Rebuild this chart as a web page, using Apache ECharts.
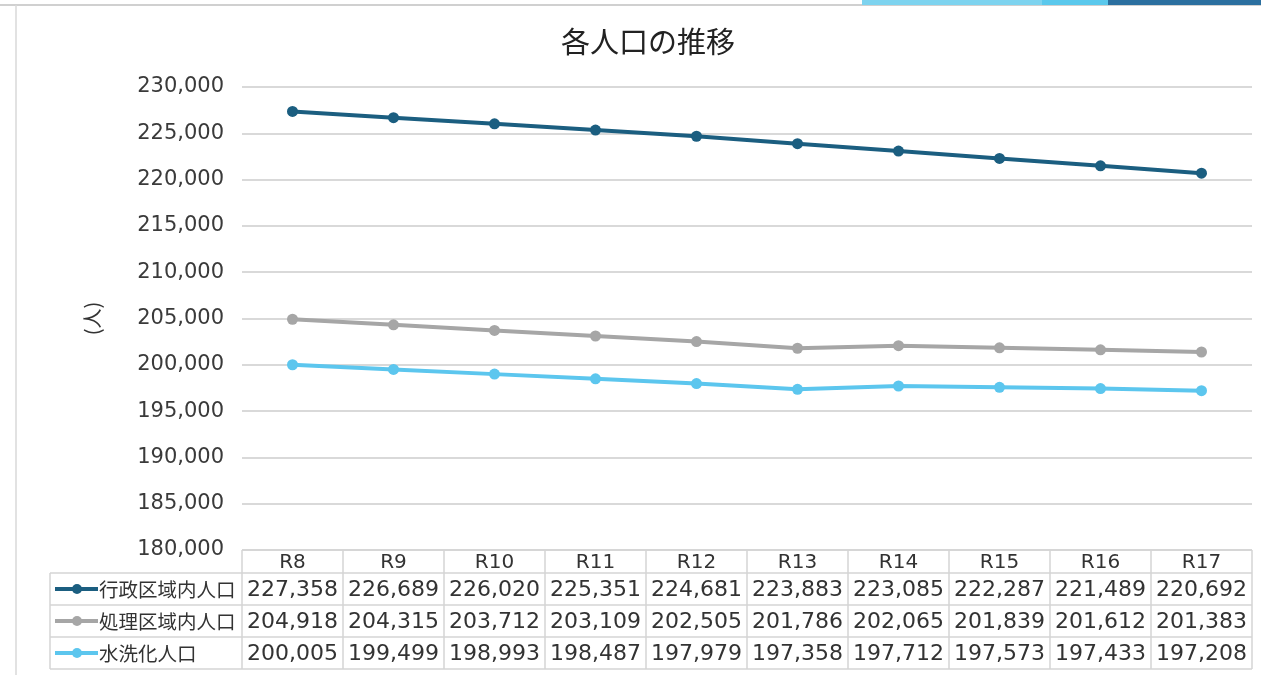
<!DOCTYPE html>
<html>
<head>
<meta charset="utf-8">
<script src="https://cdn.jsdelivr.net/npm/echarts@6/dist/echarts.min.js"></script>
<style>
  html, body { margin: 0; padding: 0; background: #fff; }
  #main { width: 1261px; height: 675px; }
</style>
</head>
<body>
<div id="main"></div>
<script>
const categories = ['R8', 'R9', 'R10', 'R11', 'R12', 'R13', 'R14', 'R15', 'R16', 'R17']
const seriesNames = ['行政区域内人口', '処理区域内人口', '水洗化人口']
const gyosei = [227358, 226689, 226020, 225351, 224681, 223883, 223085, 222287, 221489, 220692]
const shori = [204918, 204315, 203712, 203109, 202505, 201786, 202065, 201839, 201612, 201383]
const suisen = [200005, 199499, 198993, 198487, 197979, 197358, 197712, 197573, 197433, 197208]
const colors = ['#1b5e80', '#a6a6a6', '#5cc6ee']

const fontNum = '"DejaVu Sans", "Noto Sans CJK JP", sans-serif'
const fontJp = '"Noto Sans CJK JP", "Noto Sans", sans-serif'

// table layout
const gridLeft = 242
const gridRight = 9
const gridTop = 87
const gridBottom = 125
const tableLeft = 50
const rowH = 32

const chart = echarts.init(document.getElementById('main'))

const dataRows = [gyosei, shori, suisen]

const option = {
  backgroundColor: '#fff',
  animation: false,
  title: {
    text: '各人口の推移',
    left: 556,
    top: 22,
    textStyle: {fontFamily: fontJp, fontSize: 29, fontWeight: 'normal', color: '#222'}
  },
  grid: {left: gridLeft, right: gridRight, top: gridTop, bottom: gridBottom},
  xAxis: {
    type: 'category',
    data: categories,
    boundaryGap: true,
    axisLine: {show: false},
    axisTick: {show: false},
    axisLabel: {show: false}
  },
  yAxis: {
    type: 'value',
    min: 180000,
    max: 230000,
    interval: 5000,
    name: '(人)',
    nameLocation: 'middle',
    nameGap: 140,
    nameRotate: 90,
    nameTextStyle: {fontFamily: fontJp, fontSize: 20, color: '#333'},
    axisLine: {show: false},
    axisTick: {show: false},
    axisLabel: {
      fontFamily: fontNum, fontSize: 21, color: '#3a3a3a', margin: 18,
      formatter: v => v.toLocaleString('en-US')
    },
    splitLine: {lineStyle: {color: '#d9d9d9', width: 2}}
  },
  series: seriesNames.map((name, i) => ({
    name,
    type: 'line',
    data: dataRows[i],
    symbol: 'circle',
    symbolSize: 11,
    lineStyle: {width: 4, color: colors[i]},
    itemStyle: {color: colors[i]}
  }))
}
chart.setOption(option)

// data table below the plot
const plotRight = 1261 - gridRight
const tableTop = 675 - gridBottom
const colW = (plotRight - gridLeft) / categories.length
const lineStyle = {stroke: '#d4d4d4', lineWidth: 1.5}
const g = []

function hline(x1, x2, y) {
  g.push({type: 'line', shape: {x1, y1: y, x2, y2: y}, style: lineStyle, silent: true})
}
function vline(x, y1, y2) {
  g.push({type: 'line', shape: {x1: x, y1, x2: x, y2}, style: lineStyle, silent: true})
}

const headerH = 23
const bottomY = tableTop + headerH + rowH * 3
hline(gridLeft, plotRight, tableTop)
hline(tableLeft, plotRight, tableTop + headerH)
for (let r = 1; r <= 3; r++) hline(tableLeft, plotRight, tableTop + headerH + rowH * r)
vline(tableLeft, tableTop + headerH, bottomY)
for (let c = 0; c <= categories.length; c++) vline(gridLeft + colW * c, tableTop, bottomY)

categories.forEach((cat, c) => {
  const cx = chart.convertToPixel({xAxisIndex: 0}, c)
  g.push({
    type: 'text', silent: true,
    style: {
      text: cat, x: cx, y: tableTop + headerH / 2 + 1, align: 'center', verticalAlign: 'middle',
      fontFamily: fontNum, fontSize: 20, fill: '#333'
    }
  })
  dataRows.forEach((row, r) => {
    g.push({
      type: 'text', silent: true,
      style: {
        text: row[c].toLocaleString('en-US'), x: cx, y: tableTop + headerH + rowH * r + rowH / 2 + 1,
        align: 'center', verticalAlign: 'middle',
        fontFamily: fontNum, fontSize: 22, fill: '#333'
      }
    })
  })
})

seriesNames.forEach((name, r) => {
  const cy = tableTop + headerH + rowH * r + rowH / 2
  g.push({type: 'line', silent: true, shape: {x1: 55, y1: cy, x2: 98, y2: cy},
    style: {stroke: colors[r], lineWidth: 4}})
  g.push({type: 'circle', silent: true, shape: {cx: 77, cy, r: 5}, style: {fill: colors[r]}})
  g.push({
    type: 'text', silent: true,
    style: {
      text: name, x: 99, y: cy + 1, align: 'left', verticalAlign: 'middle',
      fontFamily: fontJp, fontSize: 19.5, fill: '#333'
    }
  })
})

// page frame and top decoration
g.push({type: 'line', silent: true, shape: {x1: 0, y1: 5, x2: 1261, y2: 5}, style: {stroke: '#d0d0d0', lineWidth: 2}})
g.push({type: 'line', silent: true, shape: {x1: 16, y1: 5, x2: 16, y2: 675}, style: {stroke: '#d8d8d8', lineWidth: 1.5}})
g.push({type: 'rect', silent: true, shape: {x: 862, y: 0, width: 180, height: 5}, style: {fill: '#7dd3ef'}})
g.push({type: 'rect', silent: true, shape: {x: 1042, y: 0, width: 66, height: 5}, style: {fill: '#5ac8ec'}})
g.push({type: 'rect', silent: true, shape: {x: 1108, y: 0, width: 153, height: 5}, style: {fill: '#2b6f9f'}})

chart.setOption({graphic: g})
</script>
</body>
</html>
